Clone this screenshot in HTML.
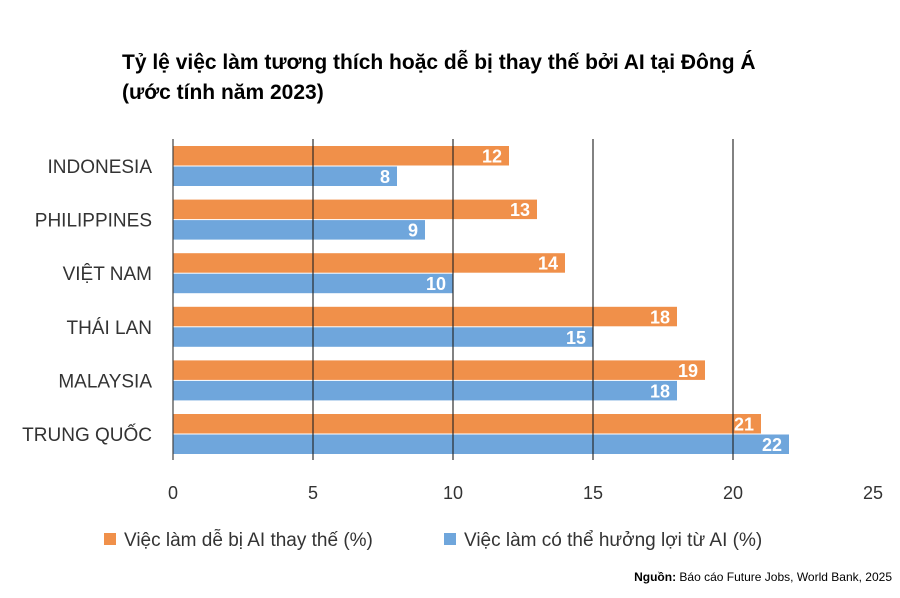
<!DOCTYPE html>
<html><head><meta charset="utf-8"><style>
body{margin:0;background:#fff;}
svg text{font-family:"Liberation Sans",sans-serif;}
</style></head><body>
<svg width="900" height="593" xmlns="http://www.w3.org/2000/svg" id="chart">
<text x="122" y="69" font-size="21" font-weight="bold" fill="#000">Tỷ lệ việc làm tương thích hoặc dễ bị thay thế bởi AI tại Đông Á</text>
<text x="122" y="99" font-size="21" font-weight="bold" fill="#000">(ước tính năm 2023)</text>
<g id="bars"></g>
<g id="grid"></g>
<g id="ticks"></g>
<g>
<rect x="104" y="533" width="12" height="12" fill="#F0904A"/>
<text x="124" y="546" font-size="19" fill="#333">Việc làm dễ bị AI thay thế (%)</text>
<rect x="444" y="533" width="12" height="12" fill="#6FA6DC"/>
<text x="464" y="546" font-size="19" fill="#333">Việc làm có thể hưởng lợi từ AI (%)</text>
</g>
<text x="892" y="581" font-size="12" text-anchor="end" fill="#000"><tspan font-weight="bold">Nguồn:</tspan> Báo cáo Future Jobs, World Bank, 2025</text>
</svg>
<script>
const categories=["INDONESIA","PHILIPPINES","VIỆT NAM","THÁI LAN","MALAYSIA","TRUNG QUỐC"];
const replacedValues=[12,13,14,18,19,21];
const benefitValues=[8,9,10,15,18,22];
const tickLabels=[0,5,10,15,20,25];
const NS="http://www.w3.org/2000/svg";
const x0=173,unit=28;
function xs(v){return x0+v*unit;}
function ys(i){return 146+i*53.6;}
function mk(tag,attrs,parent){const e=document.createElementNS(NS,tag);for(const k in attrs)e.setAttribute(k,attrs[k]);parent.appendChild(e);return e;}
const bars=document.getElementById('bars'),grid=document.getElementById('grid'),ticks=document.getElementById('ticks');
categories.forEach((c,i)=>{
 const y=ys(i);
 const t=mk('text',{x:152,y:y+27,'font-size':19,'text-anchor':'end',fill:'#333'},bars);t.textContent=c;
 
 
 [[replacedValues[i],'#F0904A',y,'bar-replaced'],[benefitValues[i],'#6FA6DC',y+20.5,'bar-benefit']].forEach(([v,col,yy,nm])=>{
  const r=mk('rect',{x:x0,y:yy,width:xs(v)-x0,height:19.5,fill:col},bars);
  
  
  const l=mk('text',{x:xs(v)-7,y:yy+16.5,'font-size':18,'font-weight':'bold','text-anchor':'end',fill:'#fff'},bars);l.textContent=v;
  
  
 });
});
tickLabels.forEach(v=>{
 if(v>0&&v<25){const g=mk('line',{x1:xs(v),x2:xs(v),y1:139,y2:460,stroke:'#222','stroke-width':1.5,opacity:0.75},grid);
  
  }
 const t=mk('text',{x:xs(v),y:499,'font-size':18,'text-anchor':'middle',fill:'#333'},ticks);t.textContent=v;
 
 
});
const ax=mk('line',{x1:x0,x2:x0,y1:139,y2:460,stroke:'#444','stroke-width':1.2},grid);


</script>
</body></html>
